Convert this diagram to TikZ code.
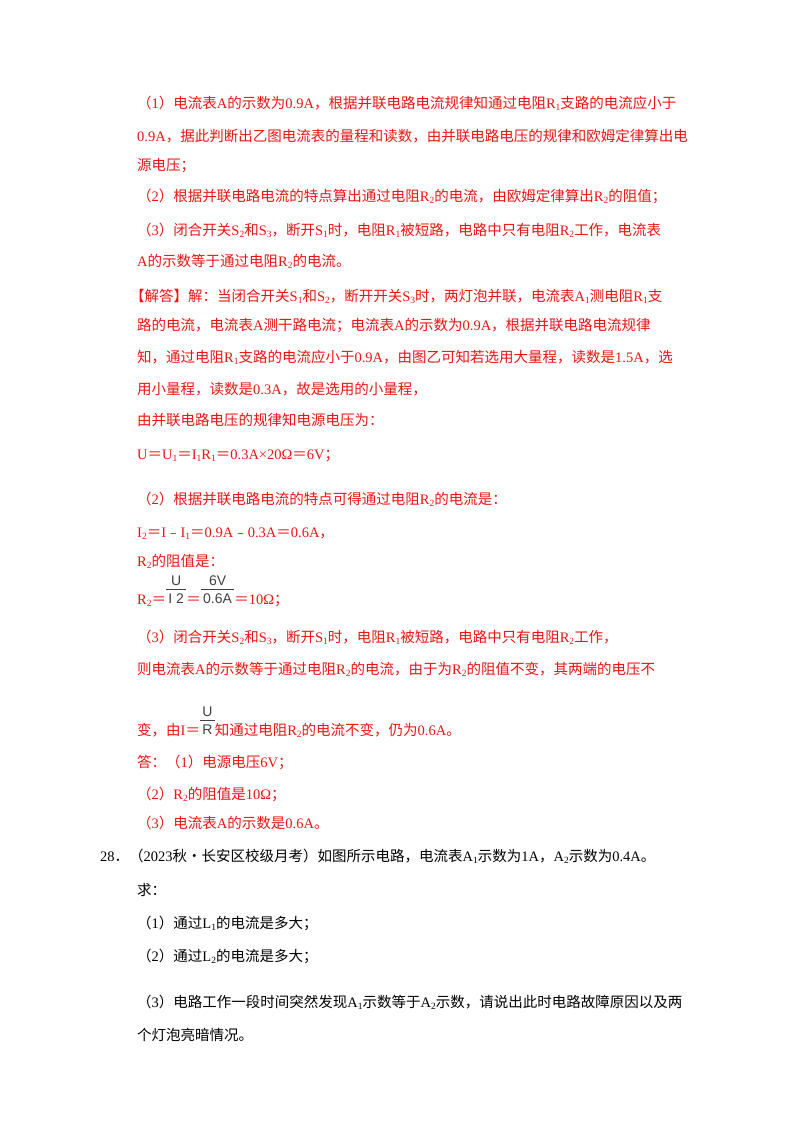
\documentclass[tikz,border=0pt]{standalone}
\usepackage{fontspec}
\setmainfont{Liberation Serif}
\newfontfamily\cjk{Noto Sans CJK SC}
\newfontfamily\sfr{Liberation Sans}
\XeTeXinterchartokenstate=1
\newXeTeXintercharclass\CJKc
\makeatletter
\def\setcls#1#2{\count@=#1 \loop\XeTeXcharclass\count@=\CJKc \ifnum\count@<#2 \advance\count@ 1 \repeat}
\setcls{"4E00}{"9FFF}\setcls{"3000}{"303F}\setcls{"FF00}{"FFEF}\setcls{"FE30}{"FE6F}\XeTeXcharclass"2022=\CJKc
\makeatother
\XeTeXinterchartoks 0 \CJKc = {\cjk}
\XeTeXinterchartoks 4095 \CJKc = {\cjk}
\XeTeXinterchartoks \CJKc 0 = {\rmfamily}
\newcommand\sbx[1]{\raisebox{-0.35ex}{\fontsize{9.5}{10}\selectfont\rmfamily #1}}
\newcommand\fr[2]{\raisebox{1pt}{\color{black!75}\sfr\fontsize{14}{15}\selectfont\begin{tabular}[b]{@{\,}c@{\,}}#1\\[-1pt]\hline\rule{0pt}{13.5pt}#2\end{tabular}}}
\definecolor{rd}{RGB}{235,20,20}
\begin{document}
\begin{tikzpicture}[x=1pt,y=-1pt,
  ln/.style={anchor=base west,inner sep=0,font=\fontsize{14.5}{16}\selectfont}]
\useasboundingbox (0,0) rectangle (800,1132);
\begin{scope}[every node/.style={ln,text=rd}]
\node (l1) at (137,108) {（1）电流表A的示数为0.9A，根据并联电路电流规律知通过电阻R\sbx{1}支路的电流应小于};
\node (l2) at (137,141) {0.9A，据此判断出乙图电流表的量程和读数，由并联电路电压的规律和欧姆定律算出电};
\node (l3) at (137,170) {源电压；};
\node (l4) at (137,201) {（2）根据并联电路电流的特点算出通过电阻R\sbx{2}的电流，由欧姆定律算出R\sbx{2}的阻值；};
\node (l5) at (137,235) {（3）闭合开关S\sbx{2}和S\sbx{3}，断开S\sbx{1}时，电阻R\sbx{1}被短路，电路中只有电阻R\sbx{2}工作，电流表};
\node (l6) at (137,266) {A的示数等于通过电阻R\sbx{2}的电流。};
\node (l7) at (130,301) {【解答】解：当闭合开关S\sbx{1}和S\sbx{2}，断开开关S\sbx{3}时，两灯泡并联，电流表A\sbx{1}测电阻R\sbx{1}支};
\node (l8) at (137,330) {路的电流，电流表A测干路电流；电流表A的示数为0.9A，根据并联电路电流规律};
\node (l9) at (137,362) {知，通过电阻R\sbx{1}支路的电流应小于0.9A，由图乙可知若选用大量程，读数是1.5A，选};
\node (l10) at (137,394) {用小量程，读数是0.3A，故是选用的小量程，};
\node (l11) at (137,425) {由并联电路电压的规律知电源电压为：};
\node (l12) at (137,459) {U＝U\sbx{1}＝I\sbx{1}R\sbx{1}＝0.3A×20Ω＝6V；};
\node (l13) at (137,504) {（2）根据并联电路电流的特点可得通过电阻R\sbx{2}的电流是：};
\node (l14) at (137,537) {I\sbx{2}＝I﹣I\sbx{1}＝0.9A﹣0.3A＝0.6A，};
\node (l15) at (137,566) {R\sbx{2}的阻值是：};
\node (l16) at (137,604) {R\sbx{2}＝\fr{U}{I 2}＝\fr{6V}{0.6A}＝10Ω；};
\node (l17) at (137,642) {（3）闭合开关S\sbx{2}和S\sbx{3}，断开S\sbx{1}时，电阻R\sbx{1}被短路，电路中只有电阻R\sbx{2}工作，};
\node (l18) at (137,674) {则电流表A的示数等于通过电阻R\sbx{2}的电流，由于为R\sbx{2}的阻值不变，其两端的电压不};
\node (l19) at (137,735) {变，由I＝\fr{U}{R}知通过电阻R\sbx{2}的电流不变，仍为0.6A。};
\node (l20) at (137,767) {答：（1）电源电压6V；};
\node (l21) at (137,799) {（2）R\sbx{2}的阻值是10Ω；};
\node (l22) at (137,828) {（3）电流表A的示数是0.6A。};
\end{scope}
\begin{scope}[every node/.style={ln,text=black}]
\node (q1) at (100,861) {28．（2023秋•长安区校级月考）如图所示电路，电流表A\sbx{1}示数为1A，A\sbx{2}示数为0.4A。};
\node (q2) at (137,895) {求：};
\node (q3) at (137,928) {（1）通过L\sbx{1}的电流是多大；};
\node (q4) at (137,961) {（2）通过L\sbx{2}的电流是多大；};
\node (q5) at (137,1007) {（3）电路工作一段时间突然发现A\sbx{1}示数等于A\sbx{2}示数，请说出此时电路故障原因以及两};
\node (q6) at (137,1040) {个灯泡亮暗情况。};
\end{scope}
\end{tikzpicture}
\end{document}
